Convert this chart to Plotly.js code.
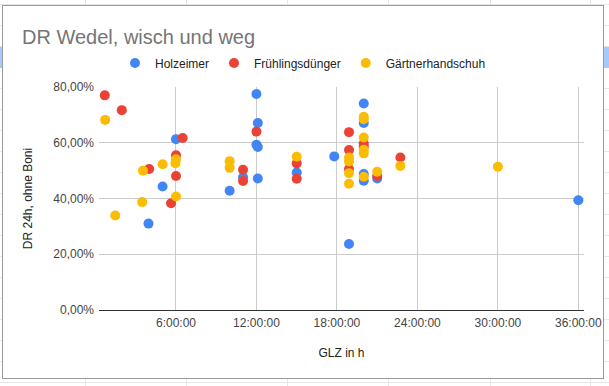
<!DOCTYPE html>
<html><head><meta charset="utf-8">
<script src="https://cdn.plot.ly/plotly-3.0.1.min.js"></script>
<style>
html,body{margin:0;padding:0;width:609px;height:386px;overflow:hidden;background:#fff;position:relative;font-family:"Liberation Sans",Arial,sans-serif}
.hl{position:absolute;left:0;width:609px;height:1px;background:#e6e6e6}
.vl{position:absolute;top:0;height:386px;width:1px;background:#e6e6e6}
.blue{position:absolute;top:47px;height:21px;background:#a8c7fa}
#frame{position:absolute;left:2px;top:5px;width:600px;height:372px;border:1px solid #9a9a9a;background:#fff}
#chart{position:absolute;left:3px;top:6px;width:600px;height:372px}
</style></head>
<body>
<div id="bg"></div>
<div id="frame"></div>
<div id="chart"></div>
<script>
// ---- data (x: GLZ in hours, y: DR 24h as fraction) ----
const seriesNames = ["Holzeimer", "Frühlingsdünger", "Gärtnerhandschuh"];
const seriesColors = ["#4285F4", "#EA4335", "#FBBC04"];

const holzX = [3.95, 5.0, 6.0, 10.0, 11.0, 12.0, 12.1, 12.0, 12.1, 12.1, 15.0, 17.8, 18.9, 20.0, 20.0, 20.0, 20.0, 21.0, 36.0];
const holzY = [0.310, 0.443, 0.613, 0.428, 0.476, 0.775, 0.671, 0.593, 0.585, 0.472, 0.493, 0.551, 0.237, 0.741, 0.671, 0.488, 0.464, 0.472, 0.394];

const fruehX = [0.69, 1.96, 6.5, 6.0, 4.0, 6.0, 5.63, 11.0, 11.0, 12.0, 15.0, 15.0, 18.9, 18.9, 18.9, 20.0, 20.0, 21.0, 22.73];
const fruehY = [0.770, 0.717, 0.617, 0.555, 0.506, 0.481, 0.383, 0.503, 0.463, 0.640, 0.526, 0.471, 0.638, 0.574, 0.506, 0.597, 0.587, 0.481, 0.547];

const gaertX = [0.72, 1.47, 3.48, 3.54, 5.0, 6.0, 5.96, 6.0, 10.0, 10.0, 15.0, 18.9, 18.9, 18.9, 18.9, 20.0, 20.0, 20.0, 20.0, 20.0, 20.0, 21.0, 22.73, 30.0];
const gaertY = [0.682, 0.339, 0.387, 0.500, 0.523, 0.541, 0.527, 0.407, 0.534, 0.510, 0.550, 0.547, 0.533, 0.491, 0.453, 0.693, 0.684, 0.619, 0.575, 0.562, 0.478, 0.496, 0.517, 0.514];

const xTickVals = [6, 12, 18, 24, 30, 36];
const xTickText = ["6:00:00", "12:00:00", "18:00:00", "24:00:00", "30:00:00", "36:00:00"];
const yTickVals = [0, 0.2, 0.4, 0.6, 0.8];

// ---- spreadsheet background ----
(function(){
  const bg = document.getElementById('bg');
  let h = '';
  for (let y = 4; y < 386; y += 21) h += '<div class="hl" style="top:'+y+'px"></div>';
  [85, 186, 287, 388, 490, 590].forEach(x => { h += '<div class="vl" style="left:'+x+'px"></div>'; });
  h += '<div class="blue" style="left:0;width:3px"></div>';
  h += '<div class="blue" style="left:603px;width:6px"></div>';
  bg.innerHTML = h;
})();

const FONT = '"Liberation Sans", Arial, sans-serif';
const xs = [holzX, fruehX, gaertX];
const ys = [holzY, fruehY, gaertY];
const traces = seriesNames.map((n, i) => ({
  type: 'scatter', mode: 'markers', name: n,
  x: xs[i], y: ys[i],
  marker: {color: seriesColors[i], size: 10},
  hoverinfo: 'none'
}));

const layout = {
  width: 600, height: 372,
  margin: {l: 96, r: 19, t: 81, b: 68, pad: 0},
  paper_bgcolor: 'rgba(0,0,0,0)', plot_bgcolor: 'rgba(0,0,0,0)',
  font: {family: FONT, size: 12, color: '#444'},
  separators: ',.',
  title: {
    text: 'DR Wedel, wisch und weg',
    font: {family: FONT, size: 20, color: '#757575'},
    xref: 'container', x: 19/600, xanchor: 'left',
    yref: 'container', y: 1 - 31/372, yanchor: 'middle'
  },
  showlegend: true,
  legend: {
    orientation: 'h', xref: 'container', yref: 'container',
    x: 0.5, xanchor: 'center', y: 1 - 57/372, yanchor: 'middle',
    font: {family: FONT, size: 12, color: '#222'},
    itemclick: false
  },
  xaxis: {
    range: [0.26, 36.42],
    tickvals: xTickVals, ticktext: xTickText,
    showgrid: true, gridcolor: '#cccccc', gridwidth: 1,
    zeroline: false,
    showline: true, linecolor: '#333333', linewidth: 1,
    ticks: '', ticklabelstandoff: 2,
    tickfont: {family: FONT, size: 12, color: '#444'},
    title: {text: 'GLZ in h', font: {family: FONT, size: 12, color: '#222'}, standoff: 19},
    fixedrange: true
  },
  yaxis: {
    range: [0, 0.8],
    tickvals: yTickVals, tickformat: '.2%',
    showgrid: true, gridcolor: '#cccccc', gridwidth: 1,
    zeroline: false, showline: false,
    ticks: '', ticklabelstandoff: 4,
    tickfont: {family: FONT, size: 12, color: '#444'},
    title: {text: 'DR 24h, ohne Boni', font: {family: FONT, size: 12, color: '#222'}, standoff: 18},
    fixedrange: true
  }
};

Plotly.newPlot('chart', traces, layout, {displayModeBar: false, staticPlot: true});
</script>
</body></html>
